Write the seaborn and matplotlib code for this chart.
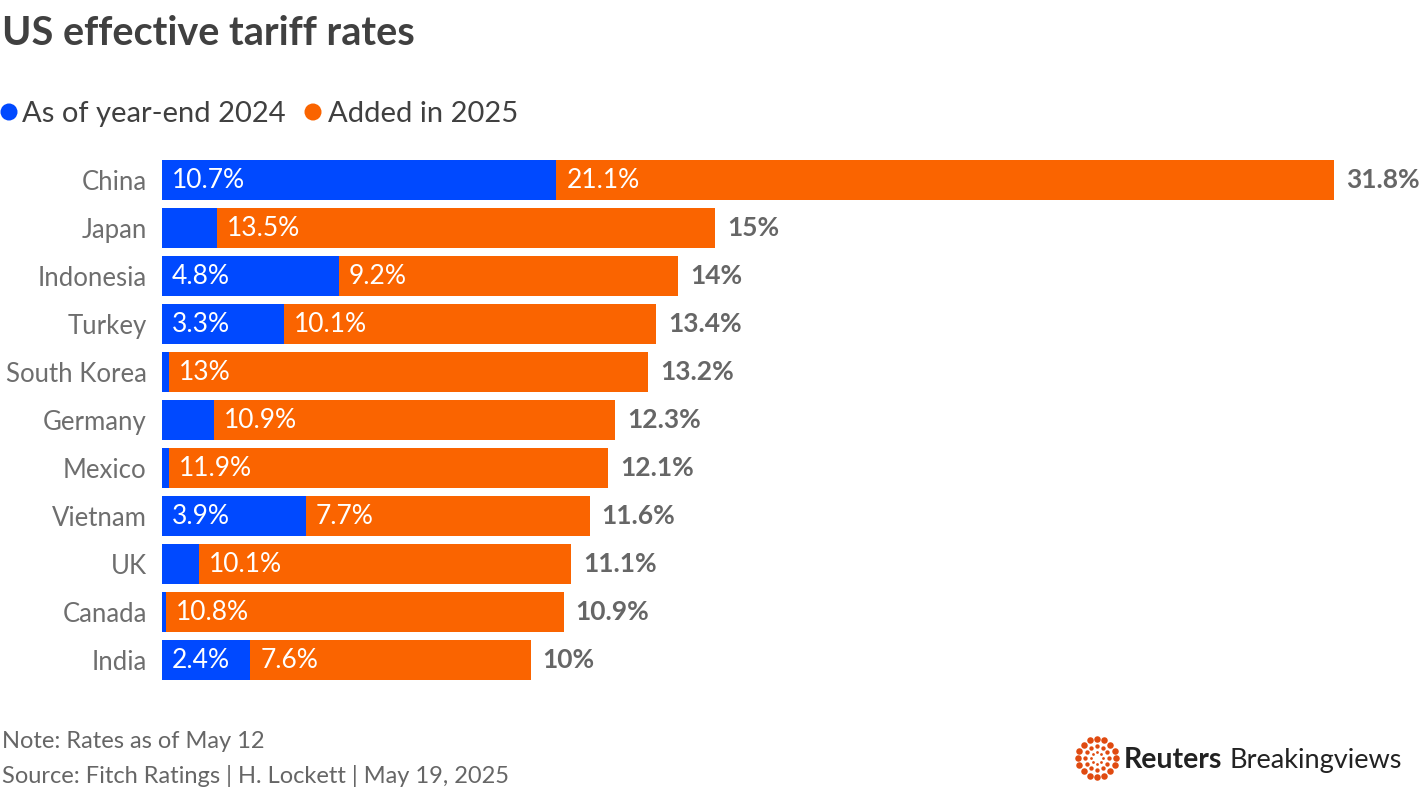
import matplotlib
matplotlib.use("Agg")
import matplotlib.pyplot as plt
import seaborn as sns
import pandas as pd
import numpy as np

countries = ["China", "Japan", "Indonesia", "Turkey", "South Korea", "Germany",
             "Mexico", "Vietnam", "UK", "Canada", "India"]
base_2024 = [10.7, 1.5, 4.8, 3.3, 0.2, 1.4, 0.2, 3.9, 1.0, 0.1, 2.4]
added_2025 = [21.1, 13.5, 9.2, 10.1, 13.0, 10.9, 11.9, 7.7, 10.1, 10.8, 7.6]
totals = [31.8, 15, 14, 13.4, 13.2, 12.3, 12.1, 11.6, 11.1, 10.9, 10]

BLUE = "#0049ff"
ORANGE = "#fa6400"
GRAY = "#666666"
DARK = "#404040"

sns.set_theme(style="white")
plt.rcParams['font.family'] = ['Lato', 'DejaVu Sans']

W, H = 1420, 798
fig = plt.figure(figsize=(W / 100, H / 100), dpi=100)

df = pd.DataFrame({"country": countries, "base": base_2024,
                   "added": added_2025, "total": totals})

px_per_unit = (1334 - 162) / 31.8
ax_left, ax_right = 162, 1420
ax_top, ax_bot = 156, 684
ax = fig.add_axes([ax_left / W, 1 - ax_bot / H, (ax_right - ax_left) / W, (ax_bot - ax_top) / H])

sns.barplot(data=df, y="country", x="total", color=ORANGE, orient="h",
            width=40 / 48, ax=ax, saturation=1, linewidth=0)
sns.barplot(data=df, y="country", x="base", color=BLUE, orient="h",
            width=40 / 48, ax=ax, saturation=1, linewidth=0)

ax.set_xlim(0, (ax_right - ax_left) / px_per_unit)
ax.set_ylim(len(countries) - 0.5, -0.5)
ax.set_xlabel("")
ax.set_ylabel("")
ax.set_xticks([])
for s in ax.spines.values():
    s.set_visible(False)
ax.tick_params(axis="y", length=0, pad=11, labelsize=18.5, labelcolor="#6e6e6e")

def fmt(v):
    s = f"{v:.1f}"
    if s.endswith(".0"):
        s = s[:-2]
    return s + "%"

off = 10 / px_per_unit
for i, (b, a, t) in enumerate(zip(base_2024, added_2025, totals)):
    if b >= 2:
        ax.text(off, i, fmt(b), color="white", fontsize=19, va="center",
                ha="left")
    ax.text(b + off, i, fmt(a), color="white", fontsize=19, va="center",
            ha="left")
    ax.text(t + 12 / px_per_unit, i, fmt(t), color=GRAY, fontsize=19,
            va="center", ha="left", fontweight="bold")

# Title
fig.text(2 / W, 1 - 45 / H, "US effective tariff rates", fontsize=28.5,
         fontweight="bold", color=DARK, ha="left", va="baseline")

# Overlay for decorations
ov = fig.add_axes([0, 0, 1, 1], zorder=-1)
ov.set_xlim(0, W)
ov.set_ylim(H, 0)
ov.axis("off")

# Legend
ov.scatter([9, 313], [112, 112], s=150, color=[BLUE, ORANGE], linewidths=0)
fig.text(22 / W, 1 - 122 / H, "As of year-end 2024", fontsize=21,
         color=DARK, ha="left", va="baseline")
fig.text(328 / W, 1 - 122 / H, "Added in 2025", fontsize=21,
         color=DARK, ha="left", va="baseline")

# Notes
fig.text(2 / W, 1 - 748 / H, "Note: Rates as of May 12", fontsize=17,
         color=GRAY, ha="left", va="baseline")
fig.text(2 / W, 1 - 783 / H, "Source: Fitch Ratings | H. Lockett | May 19, 2025",
         fontsize=17, color=GRAY, ha="left", va="baseline")

# Logo
cx, cy = 1097, 758
for r, n, sz in [(19, 16, 22), (12, 12, 10), (6, 8, 4)]:
    ang = np.linspace(0, 2 * np.pi, n, endpoint=False)
    ov.scatter(cx + r * np.cos(ang), cy + r * np.sin(ang), s=sz,
               color="#e04a10", linewidths=0)
fig.text(1124 / W, 1 - 768 / H, "Reuters", fontsize=20.5, fontweight="bold",
         color="#222222", ha="left", va="baseline")
fig.text(1229 / W, 1 - 768 / H, "Breakingviews", fontsize=19.5,
         fontweight="normal", color="#222222", ha="left", va="baseline")

fig.savefig("out.png", dpi=100)
